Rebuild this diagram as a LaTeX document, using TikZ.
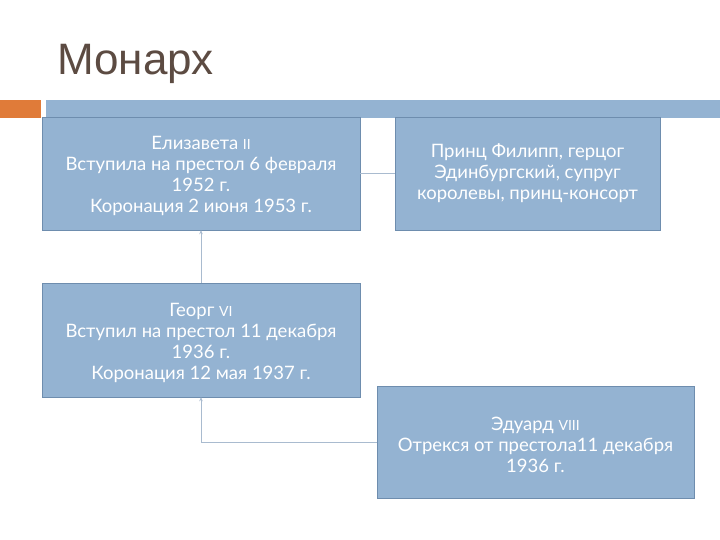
\documentclass[tikz,border=0pt]{standalone}
\usepackage{fontspec}
\setmainfont{Lato}
\newfontfamily\titlefont{Liberation Sans}
\definecolor{boxfill}{HTML}{94B3D2}
\definecolor{boxline}{HTML}{6E8DAE}
\definecolor{linkline}{HTML}{A9BBCF}
\definecolor{titlecol}{HTML}{5C4B42}
\definecolor{accent}{HTML}{E07B39}
\usetikzlibrary{arrows.meta}
\newcommand\rnum[1]{{\fontsize{14}{20.5}\selectfont #1}}
\newcommand\toppad{\rule{0pt}{19pt}}

\begin{document}
\begin{tikzpicture}
  [x=1pt,y=-1pt,
   every node/.style={rectangle,draw=boxline,fill=boxfill,text=white,align=center,
     font=\fontsize{18.5}{21}\selectfont,inner sep=2pt},
   link/.style={draw=linkline,line width=0.8pt}]
  \useasboundingbox (0,0) rectangle (720,540);
  % header
  \node[draw=none,fill=none,text=titlecol,anchor=base west,font=\titlefont\fontsize{44}{48}\selectfont,inner sep=0pt] (title) at (57,75) {Монарх};
  \fill[accent] (0,100) rectangle (41,118);
  \fill[boxfill] (46,100) rectangle (720,118);
  % monarchs
  \node[minimum width=318pt,minimum height=113pt] (M_1) at (201,173.5)
    {\toppad Елизавета \rnum{II}\\Вступила на престол 6 февраля\\1952 г.\\Коронация 2 июня 1953 г.};
  \node[minimum width=265pt,minimum height=113pt] (M_P) at (527.5,173.5)
    {Принц Филипп, герцог\\Эдинбургский, супруг\\королевы, принц-консорт};
  \node[minimum width=318pt,minimum height=114pt] (M_2) at (201,340)
    {\toppad Георг \rnum{VI}\\Вступил на престол 11 декабря\\1936 г.\\Коронация 12 мая 1937 г.};
  \node[minimum width=317pt,minimum height=112pt] (M_3) at (535.5,442)
    {\toppad Эдуард \rnum{VIII}\\Отрекся от престола11 декабря\\1936 г.};
  \draw[link] (M_P.west) -- (M_1.east);
  \draw[link,-{Stealth[length=4pt,width=3.5pt]}] (M_2.north) -- (M_1.south);
  \draw[link,-{Stealth[length=4pt,width=3.5pt]}] (M_3.west) -| (M_2.south);

\end{tikzpicture}
\end{document}
